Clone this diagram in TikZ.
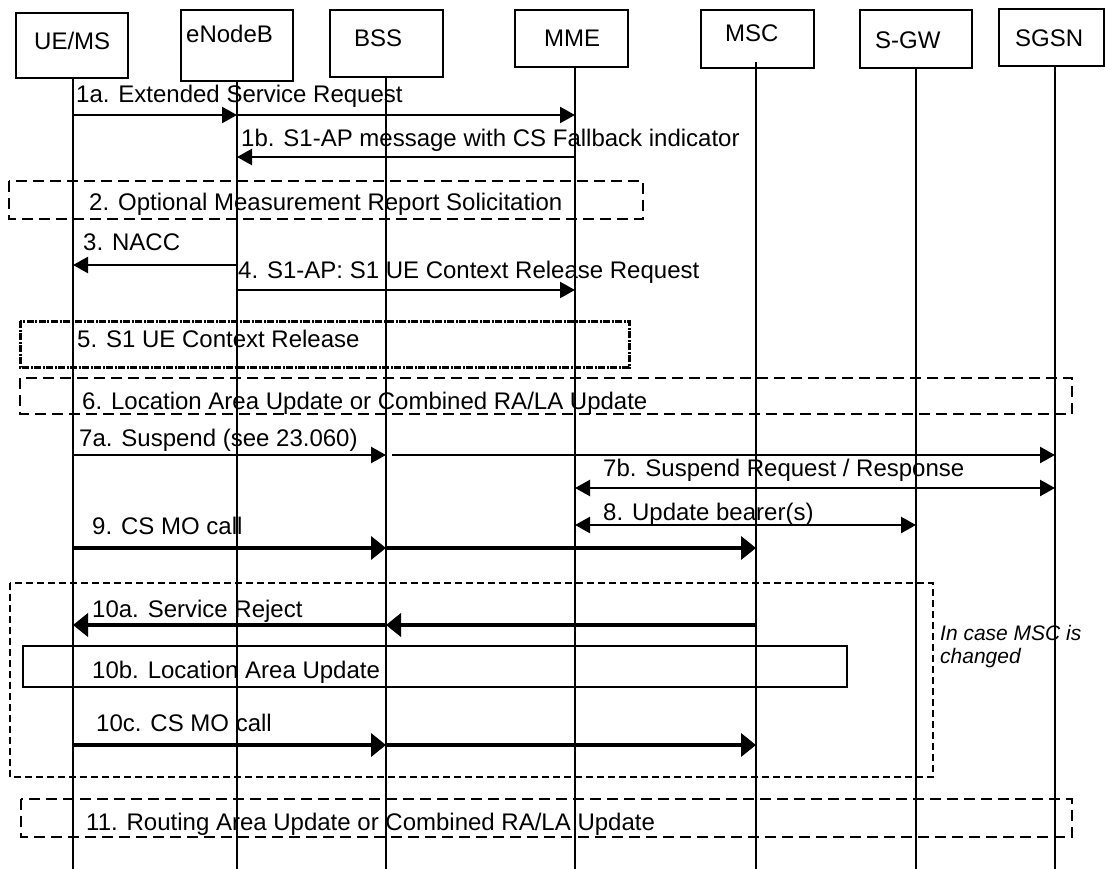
\documentclass[tikz,border=0pt]{standalone}
\usepackage{fontspec}
\setmainfont{Liberation Sans}
\usetikzlibrary{arrows.meta}
\begin{document}
\begin{tikzpicture}[x=1pt,y=-1pt,
  hdr/.style={draw, line width=2pt, inner sep=0pt, anchor=north west},
  life/.style={line width=1.8pt},
  txt/.style={anchor=base west, inner sep=0pt, font=\fontsize{24}{28}\selectfont},
  notetxt/.style={anchor=base west, inner sep=0pt, font=\fontsize{21}{24}\selectfont\itshape},
  msg/.style={line width=2.4pt, -{Triangle[length=15pt,width=16pt]}},
  dmsg/.style={line width=2.4pt, {Triangle[length=15pt,width=16pt]}-{Triangle[length=15pt,width=16pt]}},
  bmsg/.style={line width=4.5pt, -{Triangle[length=15pt,width=23pt]}},
  dbox/.style={line width=2.2pt, dash pattern=on 11pt off 6pt},
  ddbox/.style={line width=3pt, dash pattern=on 7pt off 1.5pt on 2pt off 1.5pt},
  tbox/.style={line width=1.8pt, dash pattern=on 7pt off 4pt},
  sbox/.style={line width=1.8pt}
]
\useasboundingbox (0,0) rectangle (1105,869);
\fill[white] (0,0) rectangle (1105,869);

% header boxes
\node[hdr, minimum width=112pt, minimum height=65pt] (bUE)  at (15,12) {};
\node[hdr, minimum width=112pt, minimum height=71pt] (bENB) at (180,9) {};
\node[hdr, minimum width=113pt, minimum height=67pt] (bBSS) at (329,9) {};
\node[hdr, minimum width=113pt, minimum height=57pt] (bMME) at (514,9) {};
\node[hdr, minimum width=113pt, minimum height=58pt] (bMSC) at (700,9) {};
\node[hdr, minimum width=112pt, minimum height=58pt] (bSGW) at (859,9) {};
\node[hdr, minimum width=105pt, minimum height=57pt] (bSGSN) at (998,8) {};

\node[txt] (tUE)   at (34,50)   {UE/MS};
\node[txt] (tENB)  at (186,43)  {eNodeB};
\node[txt] (tBSS)  at (354,47)  {BSS};
\node[txt] (tMME)  at (544,47)  {MME};
\node[txt] (tMSC)  at (725,42)  {MSC};
\node[txt] (tSGW)  at (875,49)  {S-GW};
\node[txt] (tSGSN) at (1015,47) {SGSN};

% lifeline x positions
\coordinate (ue)   at (73,0);
\coordinate (enb)  at (237,0);
\coordinate (bss)  at (386,0);
\coordinate (bss2) at (392,0);
\coordinate (mme)  at (575,0);
\coordinate (msc)  at (756,0);
\coordinate (sgw)  at (916,0);
\coordinate (sgsn) at (1055,0);
\coordinate (bot)  at (0,869);

\draw[life] (ue   |- bUE.south)   -- (ue   |- bot);
\draw[life] (enb  |- bENB.south)  -- (enb  |- bot);
\draw[life] (bss  |- bBSS.south)  -- (bss  |- bot);
\draw[life] (mme  |- bMME.south)  -- (mme  |- bot);
\draw[life] (msc  |- 0,62)        -- (msc  |- bot);
\draw[life] (sgw  |- bSGW.south)  -- (sgw  |- bot);
\draw[life] (sgsn |- bSGSN.south) -- (sgsn |- bot);

% row coordinates
\coordinate (r1a) at (0,115);
\coordinate (r1b) at (0,157);
\coordinate (r3)  at (0,265);
\coordinate (r4)  at (0,290);
\coordinate (r7a) at (0,455);
\coordinate (r7b) at (0,488);
\coordinate (r8)  at (0,525);
\coordinate (r9)  at (0,548);
\coordinate (r10a) at (0,625);
\coordinate (r10c) at (0,745);

% 1a
\node[txt] (t1a) at (76,103) {1a. Extended Service Request};
\draw[msg] (ue |- r1a) -- (enb |- r1a);
\draw[msg] (enb |- r1a) -- (mme |- r1a);
% 1b
\node[txt] (t1b) at (241,147) {1b. S1-AP message with CS Fallback indicator};
\draw[msg] (mme |- r1b) -- (enb |- r1b);
% 2
\draw[dbox] (9,181) rectangle (643,219);
\node[txt] (t2) at (89,211) {2. Optional Measurement Report Solicitation};
% 3
\node[txt] (t3) at (83,250) {3. NACC};
\draw[msg] (enb |- r3) -- (ue |- r3);
% 4
\node[txt] (t4) at (238,278) {4. S1-AP: S1 UE Context Release Request};
\draw[msg] (enb |- r4) -- (mme |- r4);
% 5
\draw[ddbox] (20,321) rectangle (629,367);
\node[txt] (t5) at (77,347) {5. S1 UE Context Release};
% 6
\draw[dbox] (20,378) rectangle (1072,414);
\node[txt] (t6) at (82,409) {6. Location Area Update or Combined RA/LA Update};
% 7a
\node[txt] (t7a) at (79,446) {7a. Suspend (see 23.060)};
\draw[msg] (ue |- r7a) -- (bss |- r7a);
\draw[msg] (bss2 |- r7a) -- (sgsn |- r7a);
% 7b
\node[txt] (t7b) at (603,476) {7b. Suspend Request / Response};
\draw[dmsg] (mme |- r7b) -- (sgsn |- r7b);
% 8
\node[txt] (t8) at (603,520) {8. Update bearer(s)};
\draw[dmsg] (mme |- r8) -- (sgw |- r8);
% 9
\node[txt] (t9) at (92,534) {9. CS MO call};
\draw[bmsg] (ue |- r9) -- (bss |- r9);
\draw[bmsg] (bss |- r9) -- (msc |- r9);
% 10
\draw[tbox] (10,583) rectangle (933,777);
\node[txt] (t10a) at (92,617) {10a. Service Reject};
\draw[bmsg] (msc |- r10a) -- (bss |- r10a);
\draw[bmsg] (bss |- r10a) -- (ue |- r10a);
\draw[sbox] (23,646) rectangle (847,687);
\node[txt] (t10b) at (92,678) {10b. Location Area Update};
\node[txt] (t10c) at (96,731) {10c. CS MO call};
\draw[bmsg] (ue |- r10c) -- (bss |- r10c);
\draw[bmsg] (bss |- r10c) -- (msc |- r10c);
\node[notetxt] (n1) at (940,640) {In case MSC is};
\node[notetxt] (n2) at (940,663) {changed};
% 11
\draw[dbox] (21,799) rectangle (1072,837);
\node[txt] (t11) at (86,830) {11. Routing Area Update or Combined RA/LA Update};
\end{tikzpicture}
\end{document}
